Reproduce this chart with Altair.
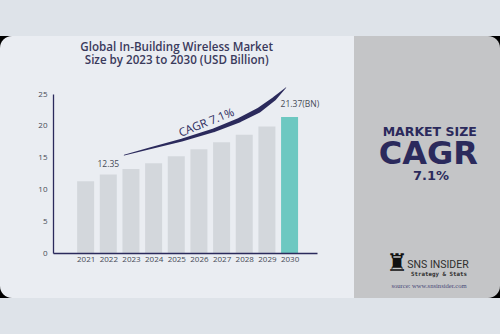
import altair as alt
import pandas as pd

# ---- data ----
years = [2021, 2022, 2023, 2024, 2025, 2026, 2027, 2028, 2029, 2030]
values = [11.3, 12.35, 13.2, 14.1, 15.2, 16.3, 17.4, 18.6, 19.9, 21.37]
groups = ["base"] * 9 + ["last"]
y_ticks = [0, 5, 10, 15, 20, 25]

label_years = [2022, 2030]
label_values = [12.35, 21.37]
label_texts = ["12.35", "21.37(BN)"]

# CAGR swoosh (in data units)
curve_years = [2022.70, 2023.83, 2025.24, 2026.66, 2027.79, 2028.64, 2029.34, 2029.84]
curve_values = [15.4, 16.45, 17.75, 19.3, 20.9, 22.45, 24.3, 26.0]
curve_widths = [0.7, 1.8, 2.8, 3.7, 4.6, 5.0, 3.8, 0.6]

title_lines = ["Global In-Building Wireless Market", "Size by 2023 to 2030 (USD Billion)"]
cagr_text = "CAGR 7.1%"
panel_lines = ["MARKET SIZE", "CAGR", "7.1%"]

NAVY = "#2b2a5c"
GREY_BAR = "#d3d7dc"
TEAL = "#6dc8c1"
LEFT_BG = "#eaedf2"
RIGHT_BG = "#c4c5c7"
LABEL = "#464a56"

W, H = 264, 159
PAD = {"left": 53, "top": 94, "right": 183, "bottom": 81}

bars_df = pd.DataFrame({"year": years, "value": values, "group": groups})
curve_df = pd.DataFrame({"cx": curve_years, "cy": curve_values, "w": curve_widths})
one = alt.Data(values=[{}])

x_scale = alt.Scale(domain=[2019.78, 2030.99], nice=False, zero=False)
y_scale = alt.Scale(domain=[0, 25], nice=False)

# ---- decoration: card backdrop ----
black = alt.Chart(one).mark_rect(color="black").encode(
    x=alt.value(-53), x2=alt.value(447), y=alt.value(-58), y2=alt.value(204))
left_card = alt.Chart(one).mark_rect(
    color=LEFT_BG, cornerRadiusTopLeft=12, cornerRadiusBottomLeft=12).encode(
    x=alt.value(-53), x2=alt.value(301), y=alt.value(-58), y2=alt.value(204))
right_card = alt.Chart(one).mark_rect(
    color=RIGHT_BG, cornerRadiusTopRight=12, cornerRadiusBottomRight=12).encode(
    x=alt.value(301), x2=alt.value(447), y=alt.value(-58), y2=alt.value(204))

# ---- bars ----
bars = alt.Chart(bars_df).mark_bar(size=17).encode(
    x=alt.X("year:Q", scale=x_scale, title=None,
            axis=alt.Axis(values=years, format="d", labelPadding=2, labelFlush=False,
                          labelOverlap=False, zindex=1)),
    y=alt.Y("value:Q", scale=y_scale, title=None,
            axis=alt.Axis(values=y_ticks, labelPadding=6, labelOverlap=False, zindex=1)),
    color=alt.Color("group:N", scale=alt.Scale(domain=["base", "last"], range=[GREY_BAR, TEAL]),
                    legend=None),
)

lbl_df = pd.DataFrame({"year": label_years, "value": label_values, "t": label_texts})
lbl1 = alt.Chart(lbl_df.iloc[[0]]).mark_text(
    font="Open Sans", fontSize=8.5, color=LABEL, dy=-10.5).encode(
    x=alt.X("year:Q", scale=x_scale, axis=None),
    y=alt.Y("value:Q", scale=y_scale, axis=None), text="t:N")
lbl2 = alt.Chart(lbl_df.iloc[[1]]).mark_text(
    font="Open Sans", fontSize=8.5, color=LABEL, dy=-13.5, dx=-9, align="left").encode(
    x=alt.X("year:Q", scale=x_scale, axis=None),
    y=alt.Y("value:Q", scale=y_scale, axis=None), text="t:N")

# ---- CAGR swoosh ----
swoosh = alt.Chart(curve_df).mark_trail(color=NAVY).encode(
    x=alt.X("cx:Q", scale=x_scale, axis=None),
    y=alt.Y("cy:Q", scale=y_scale, axis=None),
    size=alt.Size("w:Q", scale=None, legend=None),
    order="cx:Q",
)
cagr = alt.Chart(one).mark_text(
    text=cagr_text, font="Open Sans", fontSize=11.5, fontWeight=500, color=NAVY, angle=338).encode(
    x=alt.value(153.7), y=alt.value(29.3))

# ---- title ----
t1 = alt.Chart(one).mark_text(
    text=title_lines[0], font="Open Sans", fontSize=11.6, fontWeight=600, color="#3a3a5c").encode(
    x=alt.value(123.7), y=alt.value(-45.7))
t2 = alt.Chart(one).mark_text(
    text=title_lines[1], font="Open Sans", fontSize=11.6, fontWeight=600, color="#3a3a5c").encode(
    x=alt.value(123.7), y=alt.value(-32.8))

# ---- right panel ----
p1 = alt.Chart(one).mark_text(
    text=panel_lines[0], font="DejaVu Sans", fontSize=12.5, fontWeight="bold", color=NAVY).encode(
    x=alt.value(376.7), y=alt.value(38.3))
p2 = alt.Chart(one).mark_text(
    text=panel_lines[1], font="DejaVu Sans", fontSize=32, fontWeight="bold", color=NAVY).encode(
    x=alt.value(375.3), y=alt.value(59.5))
p3 = alt.Chart(one).mark_text(
    text=panel_lines[2], font="DejaVu Sans", fontSize=13, fontWeight="bold", color=NAVY).encode(
    x=alt.value(378), y=alt.value(81.5))

icon = alt.Chart(one).mark_text(
    text="\u265C", font="DejaVu Sans", fontSize=24, color="#111111", baseline="bottom").encode(
    x=alt.value(344), y=alt.value(182))
logo1 = alt.Chart(one).mark_text(
    text="SNS INSIDER", font="Roboto", fontSize=10.5, color="#2e2e2e").encode(
    x=alt.value(385), y=alt.value(171))
logo2 = alt.Chart(one).mark_text(
    text="Strategy & Stats", font="DejaVu Sans Mono", fontSize=5.8, fontWeight="bold",
    color="#2e2e2e").encode(x=alt.value(386), y=alt.value(179.8))
src = alt.Chart(one).mark_text(
    text="source: www.snsinsider.com", font="Liberation Serif", fontSize=6.6,
    color="#4a4a78").encode(x=alt.value(376), y=alt.value(191.7))

chart = alt.layer(
    black, left_card, right_card, bars, lbl1, lbl2, swoosh, cagr, t1, t2,
    p1, p2, p3, icon, logo1, logo2, src,
).resolve_axis(
    x="independent", y="independent",
).properties(
    width=W, height=H, padding=PAD, autosize=alt.AutoSizeParams(type="none"),
).configure(
    background="#dee3e9",
).configure_view(
    stroke=None,
).configure_axis(
    grid=False, ticks=False, domainColor=NAVY, domainWidth=1.3,
    labelColor=LABEL, labelFont="Open Sans", labelFontSize=8, labelOverlap=False,
)

chart.save("out.html", embed_options={"renderer": "svg", "actions": False})
